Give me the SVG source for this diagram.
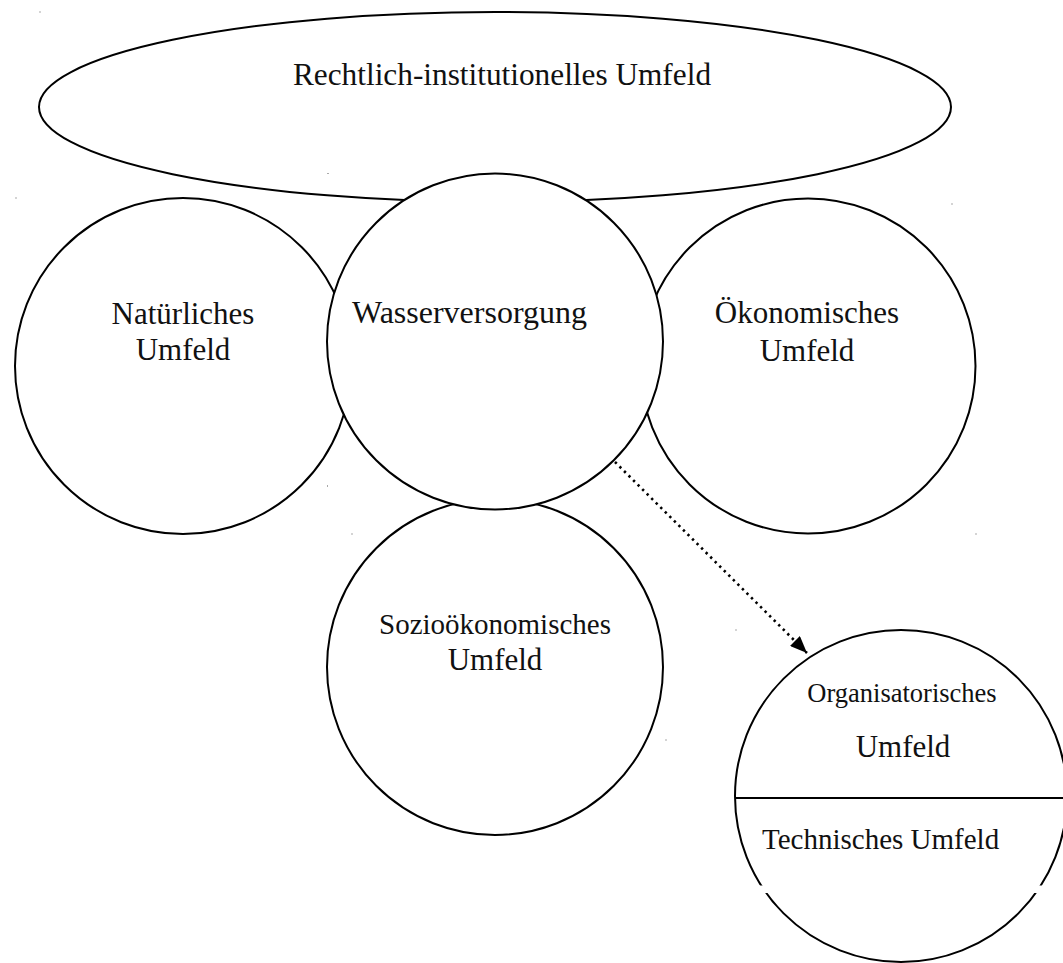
<svg xmlns="http://www.w3.org/2000/svg" width="1063" height="963" viewBox="0 0 1063 963">
  <defs>
    <style>
      .shape { fill: #ffffff; stroke: #000000; stroke-width: 2; }
      .lbl { font-family: "Liberation Serif", "Times New Roman", serif; font-size: 31px; fill: #111111; }
      .mid { text-anchor: middle; }
      .dot { fill: #555555; }
      .conn { fill: none; stroke: #000000; stroke-width: 2.6; stroke-dasharray: 2.4 4; }
    </style>
    <marker id="arrow" viewBox="0 0 17 14" refX="17" refY="7" markerWidth="17" markerHeight="14" markerUnits="userSpaceOnUse" orient="auto">
      <path d="M0,0 L17,7 L0,14 z" fill="#000000"/>
    </marker>
  </defs>
  <rect x="0" y="0" width="1063" height="963" fill="#ffffff"/>

  <g id="rechtlich">
    <ellipse class="shape" cx="495" cy="107" rx="456" ry="95"/>
    <text class="lbl mid" x="502" y="85" style="font-size:31.3px">Rechtlich-institutionelles Umfeld</text>
  </g>

  <g id="natuerlich">
    <circle class="shape" cx="183" cy="366" r="168"/>
    <text class="lbl mid" x="183" y="324">Natürliches</text>
    <text class="lbl mid" x="183" y="360">Umfeld</text>
  </g>

  <g id="oekonomisch">
    <circle class="shape" cx="808" cy="366" r="167.5"/>
    <text class="lbl mid" x="807" y="323">Ökonomisches</text>
    <text class="lbl mid" x="807" y="361">Umfeld</text>
  </g>

  <g id="soziooekonomisch">
    <circle class="shape" cx="495" cy="667" r="168"/>
    <text class="lbl mid" x="495" y="634" style="font-size:29px">Sozioökonomisches</text>
    <text class="lbl mid" x="495" y="670">Umfeld</text>
  </g>

  <g id="wasserversorgung">
    <circle class="shape" cx="495" cy="341.5" r="168"/>
    <text class="lbl" x="352" y="323" style="font-size:32px">Wasserversorgung</text>
  </g>

  <g id="organisatorisch-technisch">
    <circle class="shape" cx="901" cy="796" r="166"/>
    <line x1="735" y1="798" x2="1063" y2="798" stroke="#000000" stroke-width="2"/>
    <rect x="748" y="885.5" width="315" height="7.5" fill="#ffffff"/>
    <text class="lbl mid" x="902" y="702" style="font-size:26.5px">Organisatorisches</text>
    <text class="lbl mid" x="903" y="757">Umfeld</text>
    <text class="lbl" x="762" y="849" style="font-size:29px">Technisches Umfeld</text>
  </g>

  <g id="connectors">
    <line class="conn" x1="615" y1="462" x2="807" y2="653" marker-end="url(#arrow)"/>
  </g>

  <g id="specks">
    <rect class="dot" x="39.5" y="11.5" width="1" height="1"/>
    <rect class="dot" x="15.5" y="197.5" width="1" height="1"/>
    <rect class="dot" x="327.5" y="173" width="1" height="1"/>
    <rect class="dot" x="951.5" y="203.5" width="1" height="1"/>
    <rect class="dot" x="975.5" y="533.5" width="1" height="1"/>
    <rect class="dot" x="735.5" y="629.5" width="1" height="1"/>
    <rect class="dot" x="327" y="485.5" width="1" height="1"/>
    <rect class="dot" x="351.5" y="533.5" width="1" height="1"/>
    <rect class="dot" x="665.5" y="739.5" width="1" height="1"/>
  </g>
</svg>
